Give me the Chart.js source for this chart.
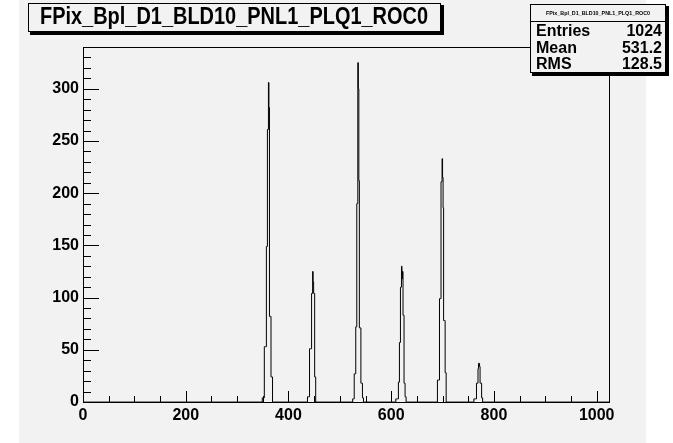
<!DOCTYPE html>
<html>
<head>
<meta charset="utf-8">
<script src="https://cdn.jsdelivr.net/npm/chart.js@4/dist/chart.umd.min.js"></script>
<style>
  html, body { margin: 0; padding: 0; background: #fff; }
  canvas { display: block; }
</style>
</head>
<body>
<canvas id="hist" width="673" height="443"></canvas>
<script>
// histogram: 1024 bins of width 1, empty except six peaks
const nBins = 1024;
const xTicks = [0, 200, 400, 600, 800, 1000];
const yTicks = [0, 50, 100, 150, 200, 250, 300];
const yMax = 340;

const peakStarts = [350, 438, 526, 610, 691, 762];
const peak1 = [4, 4, 4, 4, 53, 53, 53, 53, 149, 149, 261, 261, 306, 282, 82, 82, 82, 24, 24, 24];
const peak2 = [5, 5, 5, 5, 51, 51, 51, 51, 104, 104, 125, 115, 104, 104, 24, 24];
const peak3 = [3, 3, 3, 27, 27, 27, 72, 72, 190, 190, 325, 300, 212, 71, 71, 71, 18, 18, 18, 4, 4];
const peak4 = [3, 3, 3, 3, 3, 19, 19, 57, 57, 110, 110, 130, 118, 125, 83, 83, 18, 18, 5, 5];
const peak5 = [21, 21, 21, 21, 99, 99, 99, 211, 211, 233, 215, 186, 78, 78, 78, 28, 28];
const peak6 = [3, 3, 3, 3, 3, 18, 18, 18, 32, 37, 37, 34, 18, 18, 18, 4, 4];

const histTitle = 'FPix_Bpl_D1_BLD10_PNL1_PLQ1_ROC0';
const statNames = ['Entries', 'Mean', 'RMS'];
const statValues = ['1024', '531.2', '128.5'];

// fill bin contents
var counts = new Array(nBins).fill(0);
[peak1, peak2, peak3, peak4, peak5, peak6].forEach(function (p, k) {
  p.forEach(function (v, j) { counts[peakStarts[k] + j] = v; });
});
var points = counts.map(function (v, i) { return { x: i, y: v }; });
points.push({ x: nBins, y: counts[nBins - 1] });

const FONT = "'Liberation Sans', Arial, Helvetica, sans-serif";
const BG = '#f2f2f2';

// text squeezed horizontally to a given width (ROOT's narrow helvetica look)
function fitText(ctx, txt, cx, cy, w) {
  const m = ctx.measureText(txt).width;
  ctx.save();
  ctx.translate(cx, cy);
  ctx.scale(w / m, 1);
  ctx.textAlign = 'center';
  ctx.fillText(txt, 0, 0);
  ctx.restore();
}

// ROOT-like canvas, frame, inward ticks, title and stats boxes
const rootStyle = {
  id: 'rootStyle',
  beforeDraw(chart) {
    const ctx = chart.ctx;
    ctx.save();
    ctx.fillStyle = '#fff';
    ctx.fillRect(0, 0, chart.width, chart.height);
    ctx.fillStyle = BG;
    ctx.fillRect(19, 0, 627, chart.height);
    ctx.restore();
  },
  afterDraw(chart) {
    const ctx = chart.ctx;
    const a = chart.chartArea;
    const xs = chart.scales.x, ys = chart.scales.y;
    ctx.save();
    ctx.strokeStyle = '#000';
    ctx.lineWidth = 1;

    // frame
    ctx.strokeRect(Math.round(a.left) + 0.5, Math.round(a.top) + 0.5,
      Math.round(a.right - a.left), Math.round(a.bottom - a.top));

    // x ticks (inward from bottom)
    ctx.beginPath();
    for (let v = 0; v <= nBins; v += 50) {
      const px = Math.round(xs.getPixelForValue(v)) + 0.5;
      const len = v % 200 === 0 ? 11 : 6;
      ctx.moveTo(px, a.bottom);
      ctx.lineTo(px, a.bottom - len);
    }
    // y ticks (inward from left)
    for (let v = 0; v <= yMax; v += 10) {
      const py = Math.round(ys.getPixelForValue(v)) + 0.5;
      const len = v % 50 === 0 ? 16 : 8;
      ctx.moveTo(a.left, py);
      ctx.lineTo(a.left + len, py);
    }
    ctx.stroke();

    // title box
    ctx.fillStyle = '#000';
    ctx.fillRect(30, 5, 414, 30);
    ctx.fillStyle = BG;
    ctx.fillRect(28, 3, 413, 29);
    ctx.strokeRect(28.5, 3.5, 412, 28);
    ctx.fillStyle = '#000';
    ctx.font = 'bold 23px ' + FONT;
    ctx.textBaseline = 'middle';
    fitText(ctx, histTitle, 234, 18, 388);

    // stats box
    ctx.fillStyle = '#000';
    ctx.fillRect(532, 6, 137, 70);
    ctx.fillStyle = BG;
    ctx.fillRect(530, 4, 136, 69);
    ctx.strokeRect(530.5, 4.5, 135, 68);
    ctx.beginPath();
    ctx.moveTo(530, 21.5);
    ctx.lineTo(666, 21.5);
    ctx.stroke();
    ctx.fillStyle = '#000';
    ctx.font = 'bold 6px ' + FONT;
    fitText(ctx, histTitle, 598, 13, 104);
    ctx.font = 'bold 16px ' + FONT;
    statNames.forEach(function (n, i) {
      const y = 32 + i * 16.5;
      ctx.textAlign = 'left';
      ctx.fillText(n, 536, y);
      ctx.textAlign = 'right';
      ctx.fillText(statValues[i], 662, y);
    });
    ctx.restore();
  }
};

new Chart(document.getElementById('hist'), {
  type: 'line',
  data: {
    datasets: [{
      data: points,
      stepped: 'after',
      borderColor: '#000',
      borderWidth: 1,
      pointRadius: 0,
      fill: false
    }]
  },
  options: {
    responsive: false,
    animation: false,
    devicePixelRatio: 1,
    layout: { padding: { left: 0, top: 47, right: 64, bottom: 0 } },
    plugins: {
      legend: { display: false },
      tooltip: { enabled: false },
      title: { display: false }
    },
    scales: {
      x: {
        type: 'linear',
        min: 0,
        max: nBins,
        afterBuildTicks: function (s) { s.ticks = xTicks.map(function (v) { return { value: v }; }); },
        afterFit: function (s) { s.height = 41; },
        grid: { display: false, drawTicks: false },
        border: { display: false },
        ticks: {
          autoSkip: false,
          maxRotation: 0,
          padding: 4,
          color: '#000',
          font: { family: FONT, size: 16, weight: 'bold' },
          callback: function (v) { return String(v); }
        }
      },
      y: {
        type: 'linear',
        min: 0,
        max: yMax,
        afterBuildTicks: function (s) { s.ticks = yTicks.map(function (v) { return { value: v }; }); },
        afterFit: function (s) { s.width = 83; },
        grid: { display: false, drawTicks: false },
        border: { display: false },
        ticks: {
          padding: 4,
          color: '#000',
          font: { family: FONT, size: 16, weight: 'bold' },
          callback: function (v) { return String(v); }
        }
      }
    }
  },
  plugins: [rootStyle]
});
</script>
</body>
</html>
